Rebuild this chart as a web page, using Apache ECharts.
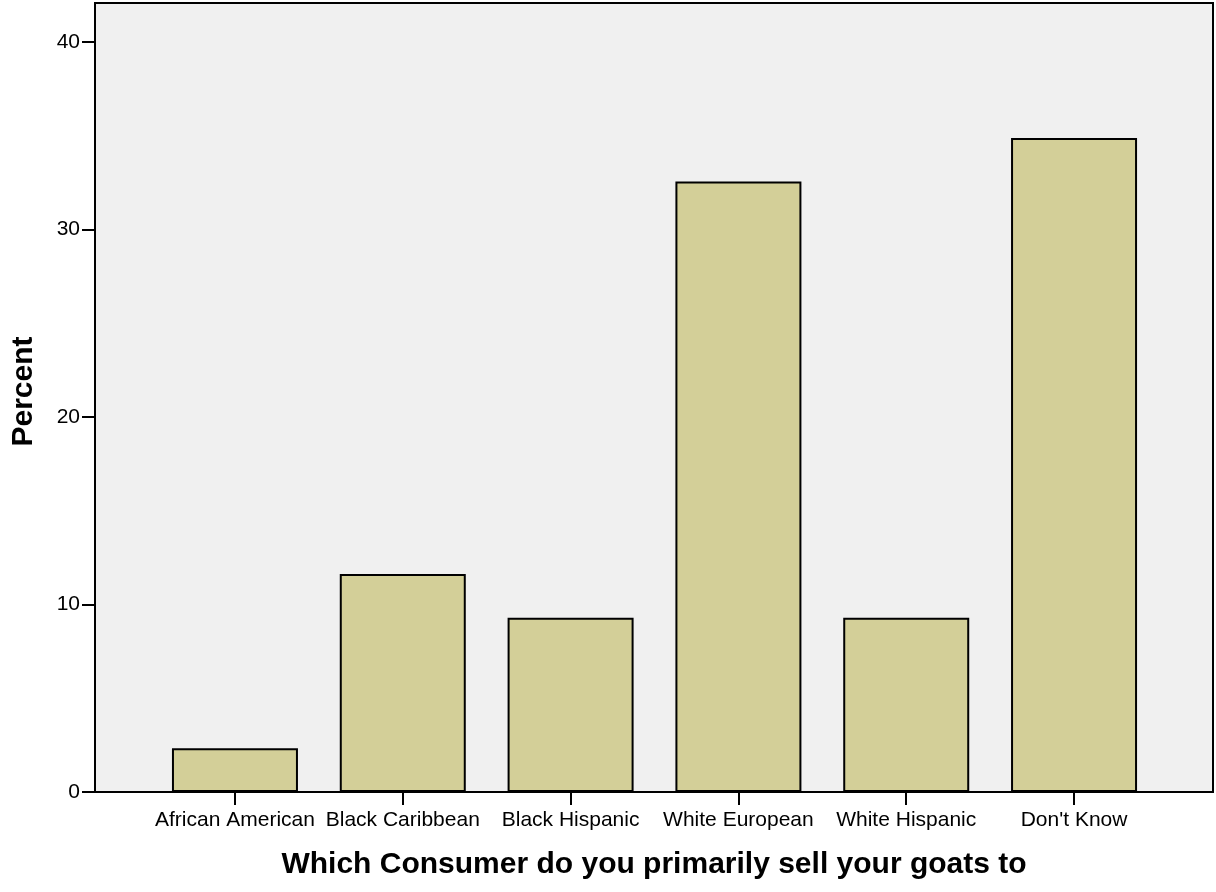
<!DOCTYPE html>
<html>
<head>
<meta charset="utf-8">
<script src="https://cdn.jsdelivr.net/npm/echarts@6/dist/echarts.min.js"></script>
<style>
html,body{margin:0;padding:0;background:#fff;}
#chart{width:1216px;height:892px;}
</style>
</head>
<body>
<div id="chart"></div>
<script>
const categories = ["African American", "Black Caribbean", "Black Hispanic", "White European", "White Hispanic", "Don't Know"];
const percents = [2.33, 11.63, 9.30, 32.56, 9.30, 34.88];
const yTicks = [0, 10, 20, 30, 40];
const xTitle = "Which Consumer do you primarily sell your goats to";
const yTitle = "Percent";

const FONT = "'Liberation Sans', Arial, sans-serif";
const chart = echarts.init(document.getElementById('chart'), null, {renderer: 'canvas'});
const positions = categories.map((c, i) => i);

chart.setOption({
  animation: false,
  backgroundColor: '#ffffff',
  grid: {
    left: 95, right: 3, top: 3, bottom: 100,
    show: true, backgroundColor: '#f0f0f0', borderColor: '#000', borderWidth: 2
  },
  xAxis: {
    type: 'value',
    min: -0.834, max: 5.828,
    name: xTitle,
    nameLocation: 'middle',
    nameGap: 58,
    nameTextStyle: {fontFamily: FONT, fontSize: 30, fontWeight: 'bold', color: '#000'},
    axisLine: {show: true, onZero: false, lineStyle: {color: '#000', width: 2}},
    axisTick: {show: true, length: 13, lineStyle: {color: '#000', width: 2}, customValues: positions},
    axisLabel: {
      customValues: positions,
      formatter: v => categories[Math.round(v)] || '',
      fontFamily: FONT, fontSize: 21, color: '#000', margin: 18
    },
    splitLine: {show: false}
  },
  yAxis: {
    type: 'value',
    min: 0, max: 42.08,
    name: yTitle,
    nameLocation: 'middle',
    nameGap: 56,
    nameTextStyle: {fontFamily: FONT, fontSize: 30, fontWeight: 'bold', color: '#000', padding: [0, 0, 0, 12]},
    axisLine: {show: true, onZero: false, lineStyle: {color: '#000', width: 2}},
    axisTick: {show: true, length: 13, lineStyle: {color: '#000', width: 2}, customValues: yTicks},
    axisLabel: {
      customValues: yTicks,
      fontFamily: FONT, fontSize: 21, color: '#000', margin: 15, padding: [8, 0, 0, 0]
    },
    splitLine: {show: false}
  },
  series: [{
    type: 'bar',
    barWidth: 126,
    data: percents.map((v, i) => [i, v]),
    itemStyle: {color: '#d3cf98', borderColor: '#000', borderWidth: 2}
  }]
});
</script>
</body>
</html>
